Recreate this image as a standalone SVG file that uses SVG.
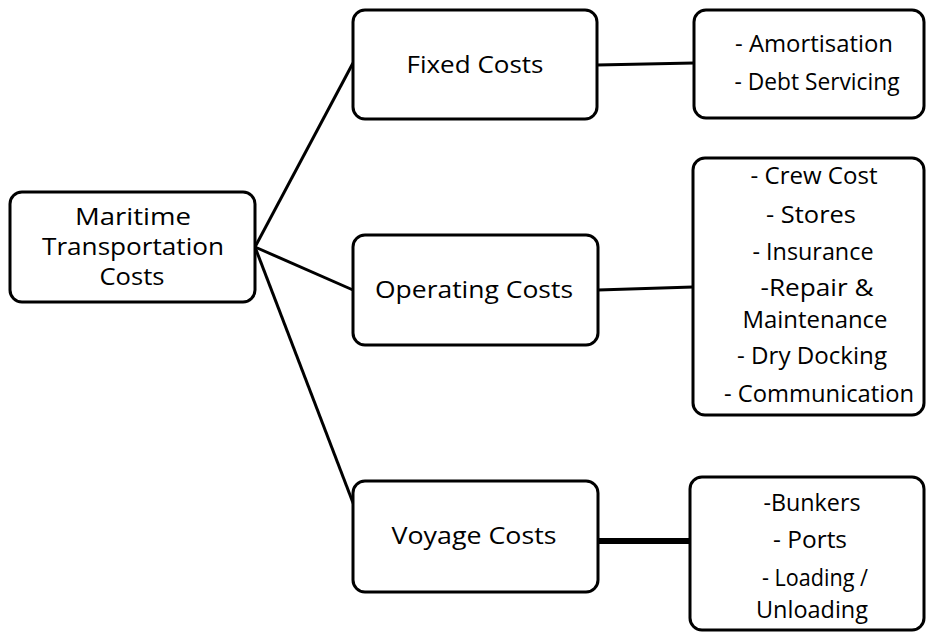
<svg xmlns="http://www.w3.org/2000/svg" width="927" height="633" viewBox="0 0 927 633">
  <style>
    .box { fill: #ffffff; stroke: #000000; stroke-width: 3; }
    .link { stroke: #000000; stroke-width: 3; fill: none; }
    .thick { stroke-width: 6; }
    text { font-family: "Open Sans", "Liberation Sans", sans-serif; font-size: 23px; fill: #000000; text-anchor: middle; }
  </style>
  <rect width="927" height="633" fill="#ffffff"/>

  <!-- connectors -->
  <g id="connectors">
    <line class="link" x1="255" y1="247" x2="353" y2="63"/>
    <line class="link" x1="255" y1="247" x2="353" y2="290"/>
    <line class="link" x1="255" y1="247" x2="355" y2="508"/>
    <line class="link" x1="597" y1="65" x2="694" y2="63"/>
    <line class="link" x1="598" y1="290" x2="693" y2="287"/>
    <line class="link thick" x1="598" y1="541" x2="690" y2="541"/>
  </g>

  <g id="root">
    <rect class="box" x="10" y="192" width="245" height="110" rx="12"/>
    <text x="133" y="225" textLength="116" lengthAdjust="spacingAndGlyphs">Maritime</text>
    <text x="133" y="255" textLength="182" lengthAdjust="spacingAndGlyphs">Transportation</text>
    <text x="132" y="285" textLength="65" lengthAdjust="spacingAndGlyphs">Costs</text>
  </g>

  <g id="fixed">
    <rect class="box" x="353" y="10" width="244" height="109" rx="12"/>
    <text x="475" y="73" textLength="137" lengthAdjust="spacingAndGlyphs">Fixed Costs</text>
  </g>

  <g id="operating">
    <rect class="box" x="353" y="235" width="245" height="110" rx="12"/>
    <text x="474" y="298" textLength="198" lengthAdjust="spacingAndGlyphs">Operating Costs</text>
  </g>

  <g id="voyage">
    <rect class="box" x="353" y="481" width="245" height="111" rx="12"/>
    <text x="474" y="544" textLength="165" lengthAdjust="spacingAndGlyphs">Voyage Costs</text>
  </g>

  <g id="fixed-items">
    <rect class="box" x="694" y="10" width="230" height="108" rx="12"/>
    <text x="814" y="52" textLength="158" lengthAdjust="spacingAndGlyphs">- Amortisation</text>
    <text x="817" y="90" textLength="165" lengthAdjust="spacingAndGlyphs">- Debt Servicing</text>
  </g>

  <g id="operating-items">
    <rect class="box" x="693" y="158" width="231" height="257" rx="12"/>
    <text x="814" y="184" textLength="127" lengthAdjust="spacingAndGlyphs">- Crew Cost</text>
    <text x="811" y="223" textLength="90" lengthAdjust="spacingAndGlyphs">- Stores</text>
    <text x="813" y="260" textLength="121" lengthAdjust="spacingAndGlyphs">- Insurance</text>
    <text x="817" y="296" textLength="113" lengthAdjust="spacingAndGlyphs">-Repair &amp;</text>
    <text x="815" y="328" textLength="145" lengthAdjust="spacingAndGlyphs">Maintenance</text>
    <text x="812" y="364" textLength="150" lengthAdjust="spacingAndGlyphs">- Dry Docking</text>
    <text x="819" y="402" textLength="190" lengthAdjust="spacingAndGlyphs">- Communication</text>
  </g>

  <g id="voyage-items">
    <rect class="box" x="690" y="477" width="234" height="153" rx="12"/>
    <text x="812" y="511" textLength="97" lengthAdjust="spacingAndGlyphs">-Bunkers</text>
    <text x="810" y="548" textLength="74" lengthAdjust="spacingAndGlyphs">- Ports</text>
    <text x="815" y="586" textLength="106" lengthAdjust="spacingAndGlyphs">- Loading /</text>
    <text x="812" y="618" textLength="112" lengthAdjust="spacingAndGlyphs">Unloading</text>
  </g>
</svg>
